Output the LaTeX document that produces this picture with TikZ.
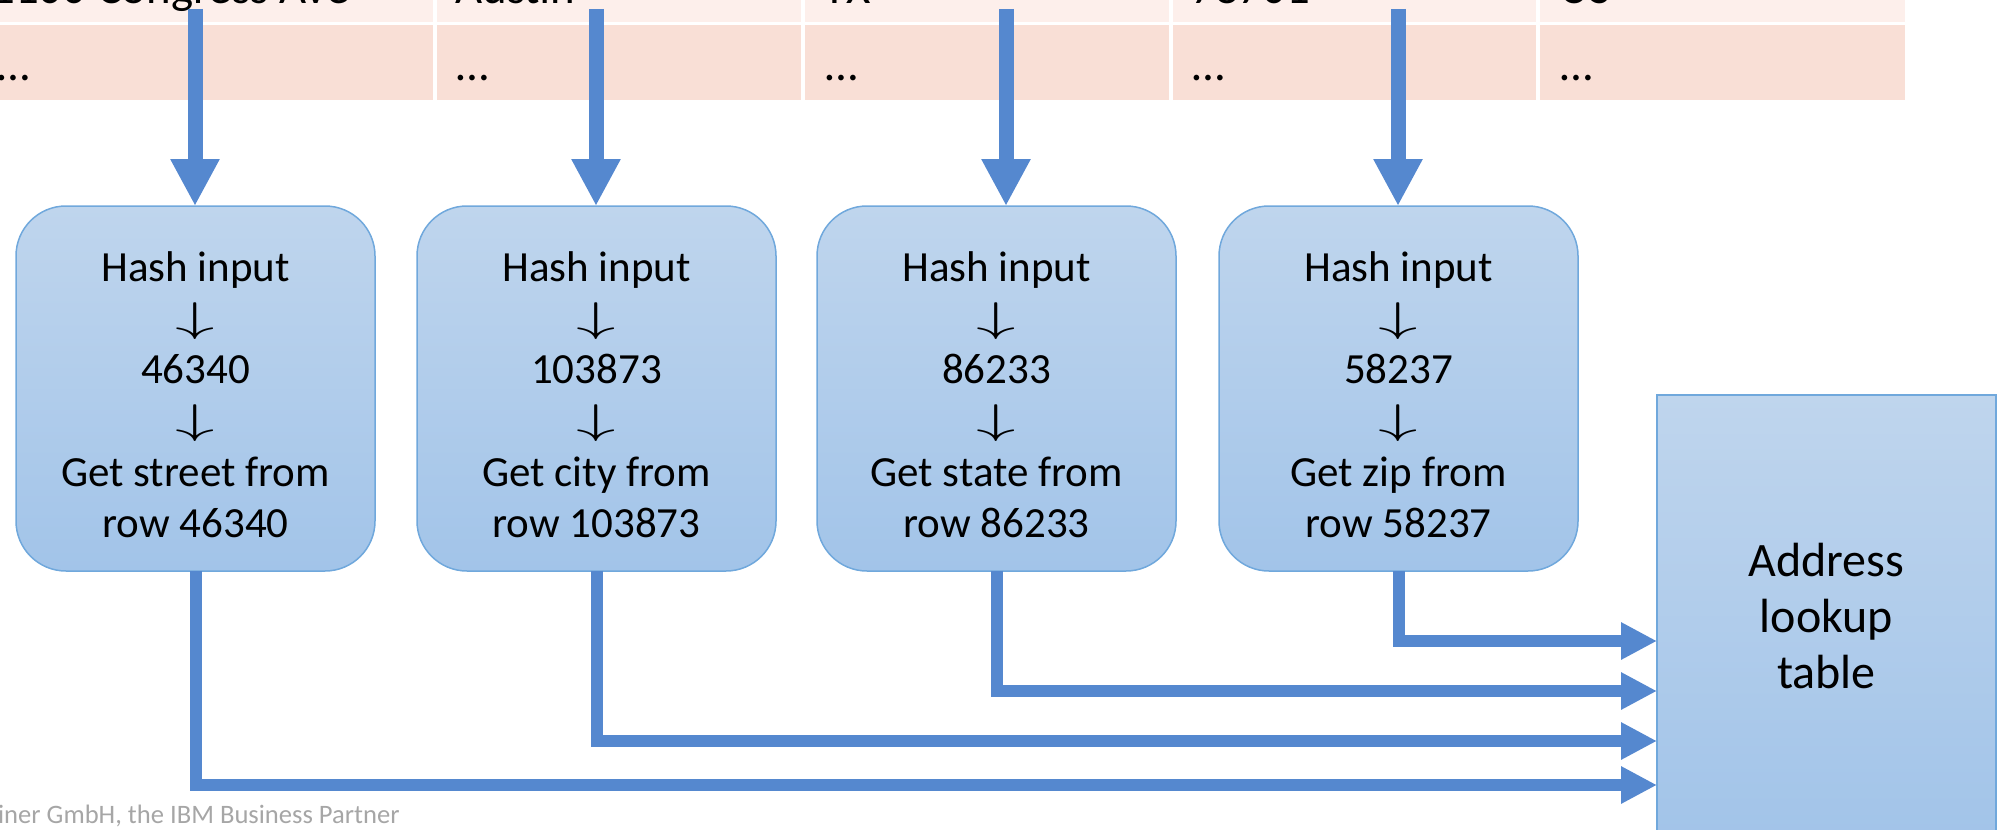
\documentclass[tikz,border=0pt]{standalone}
\usepackage{fontspec}
\setmainfont{Carlito}
\usetikzlibrary{arrows.meta}
\definecolor{arrowblue}{RGB}{85,136,207}
\definecolor{boxtop}{RGB}{191,213,237}
\definecolor{boxbot}{RGB}{162,196,233}
\definecolor{boxline}{RGB}{112,168,220}
\definecolor{rowA}{RGB}{253,239,235}
\definecolor{rowB}{RGB}{249,223,214}
\definecolor{footgray}{RGB}{166,166,166}
\newcommand{\dnarrow}{\raisebox{0.5pt}[15pt][2pt]{\scalebox{1.9}[1.0]{$\downarrow$}}}
\newcommand{\firstline}{\rule{0pt}{21pt}}
\tikzset{
  hashbox/.style={draw=boxline, line width=0.75pt, rounded corners=25pt,
    top color=boxtop, bottom color=boxbot, minimum width=179.5pt,
    minimum height=182.5pt, align=center, inner sep=0pt, outer sep=0pt,
    font=\fontsize{21.5}{25.6}\selectfont},
  addrbox/.style={draw=boxline, line width=0.75pt,
    top color=boxtop, bottom color=boxbot, minimum width=169.5pt,
    minimum height=221pt, align=center, inner sep=0pt, outer sep=0pt,
    font=\fontsize{24}{28}\selectfont},
  celltext/.style={inner sep=0pt, font=\fontsize{23.4}{28}\selectfont},
  inflow/.style={draw=arrowblue, line width=7.5pt,
    -{Triangle[length=23.5pt,width=23pt]}},
  outflow/.style={draw=arrowblue, line width=6pt, line join=miter,
    -{Triangle[length=18pt,width=17.5pt]}},
}
\begin{document}
\begin{tikzpicture}[x=0.5pt,y=-0.5pt]
\useasboundingbox (0,0) rectangle (2005,829);
\clip (0,0) rectangle (2005,829);
% table rows
\foreach \l/\r in {-60/433,437/801,805/1169,1173/1536,1540/1905}{
  \fill[rowA] (\l,-20) rectangle (\r,22);
  \fill[rowB] (\l,25) rectangle (\r,100);
}
\node[celltext, anchor=base east] (c11) at (350,4) {1100 Congress Ave};
\node[celltext, anchor=base west] (c12) at (455,4) {Austin};
\node[celltext, anchor=base west] (c13) at (823,4) {TX};
\node[celltext, anchor=base west] (c14) at (1191,4) {78701};
\node[celltext, anchor=base west] (c15) at (1559,4) {US};
\node[celltext, anchor=base west] (c21) at (-3,81) {…};
\node[celltext, anchor=base west] (c22) at (456,81) {…};
\node[celltext, anchor=base west] (c23) at (825,81) {…};
\node[celltext, anchor=base west] (c24) at (1192,81) {…};
\node[celltext, anchor=base west] (c25) at (1560,81) {…};
% hash boxes
\node[hashbox] (b1) at (195.5,388.5) {\firstline Hash input\\\dnarrow\\46340\\\dnarrow\\Get street from\\row 46340};
\node[hashbox] (b2) at (596.5,388.5) {\firstline Hash input\\\dnarrow\\103873\\\dnarrow\\Get city from\\row 103873};
\node[hashbox] (b3) at (996.5,388.5) {\firstline Hash input\\\dnarrow\\86233\\\dnarrow\\Get state from\\row 86233};
\node[hashbox] (b4) at (1398.5,388.5) {\firstline Hash input\\\dnarrow\\58237\\\dnarrow\\Get zip from\\row 58237};
% address lookup table
\node[addrbox] (addr) at (1826.5,616) {Address\\lookup\\table};
% top arrows
\coordinate (t1) at (195,9);
\coordinate (t2) at (596,9);
\coordinate (t3) at (1006,9);
\coordinate (t4) at (1398,9);
\draw[inflow] (t1) -- (t1 |- b1.north);
\draw[inflow] (t2) -- (t2 |- b2.north);
\draw[inflow] (t3) -- (t3 |- b3.north);
\draw[inflow] (t4) -- (t4 |- b4.north);
% bottom connectors
\coordinate (e1) at (1657,785);
\coordinate (e2) at (1657,741);
\coordinate (e3) at (1657,691);
\coordinate (e4) at (1657,641);
\draw[outflow] (b1.south) |- (e1);
\draw[outflow] (b2.south) |- (e2);
\draw[outflow] (b3.south) |- (e3);
\draw[outflow] (b4.south) |- (e4);
% footer
\node[anchor=base east, inner sep=0pt, text=footgray, font=\fontsize{13.3}{16}\selectfont] (foot) at (400,823) {iner GmbH, the IBM Business Partner};
\end{tikzpicture}
\end{document}
